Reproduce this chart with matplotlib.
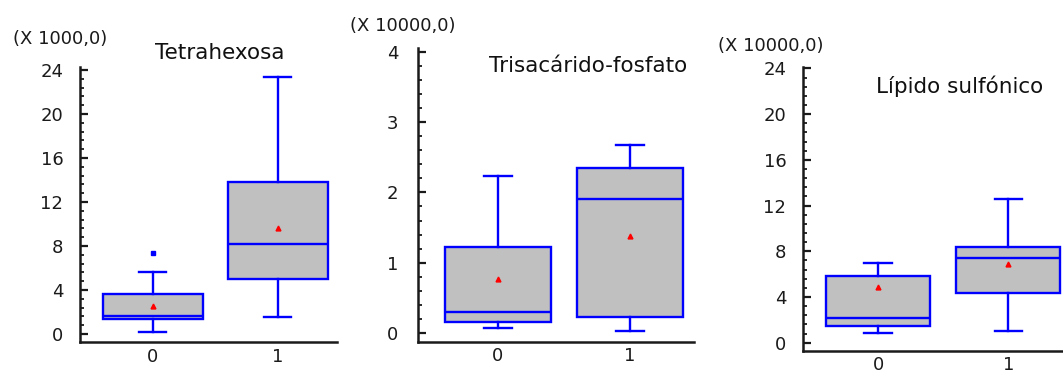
import matplotlib
matplotlib.use("Agg")
import matplotlib.pyplot as plt
from matplotlib.ticker import MultipleLocator, AutoMinorLocator

plt.rcParams['font.family'] = ['DejaVu Sans']

# group labels on the x axis
groups = ['0', '1']

# Tetrahexosa (X 1000,0): whisker low, Q1, median, Q3, whisker high, mean
tetra_lo = [0.15, 1.5]
tetra_q1 = [1.4, 5.0]
tetra_med = [1.65, 8.2]
tetra_q3 = [3.6, 13.8]
tetra_hi = [5.6, 23.4]
tetra_mean = [2.5, 9.6]
tetra_out = [[7.4], []]

# Trisacárido-fosfato (X 10000,0)
tris_lo = [0.07, 0.03]
tris_q1 = [0.16, 0.23]
tris_med = [0.30, 1.90]
tris_q3 = [1.22, 2.34]
tris_hi = [2.23, 2.67]
tris_mean = [0.77, 1.38]
tris_out = [[], []]

# Lípido sulfónico (X 10000,0)
lip_lo = [0.87, 1.05]
lip_q1 = [1.49, 4.32]
lip_med = [2.13, 7.38]
lip_q3 = [5.84, 8.40]
lip_hi = [6.95, 12.57]
lip_mean = [4.9, 6.86]
lip_out = [[], []]

W, H = 1063, 378
fig = plt.figure(figsize=(W / 100, H / 100), dpi=100)

BLUE = '#0000ff'


def px_box(left, right, top, bottom):
    """Axes rect from pixel coordinates (y measured from the top)."""
    return [left / W, 1 - bottom / H, (right - left) / W, (bottom - top) / H]


def draw_panel(rect, lo, q1, med, q3, hi, mean, out, ylim, xlim,
               major, title, title_xy, scale, scale_xy, ypad):
    ax = fig.add_axes(rect)
    stats = []
    for i in range(len(groups)):
        stats.append(dict(whislo=lo[i], q1=q1[i], med=med[i], q3=q3[i],
                          whishi=hi[i], mean=mean[i], fliers=out[i],
                          label=groups[i]))
    ax.bxp(stats, positions=range(len(groups)), widths=0.8, capwidths=0.21,
           patch_artist=True, showmeans=True,
           boxprops=dict(facecolor='#c0c0c0', edgecolor=BLUE, linewidth=1.7),
           medianprops=dict(color=BLUE, linewidth=1.7),
           whiskerprops=dict(color=BLUE, linewidth=1.7),
           capprops=dict(color=BLUE, linewidth=1.7),
           meanprops=dict(marker='^', markerfacecolor='red',
                          markeredgecolor='red', markersize=3.5),
           flierprops=dict(marker='s', markerfacecolor=BLUE,
                           markeredgecolor=BLUE, markersize=2.5))
    ax.set_xlim(*xlim)
    ax.set_ylim(*ylim)
    ax.yaxis.set_major_locator(MultipleLocator(major))
    ax.yaxis.set_minor_locator(AutoMinorLocator(5))
    for side in ('top', 'right'):
        ax.spines[side].set_visible(False)
    for side in ('left', 'bottom'):
        ax.spines[side].set_linewidth(1.8)
        ax.spines[side].set_color('#1a1a1a')
    ax.tick_params(axis='y', which='major', direction='in', length=6,
                   width=1.6, labelsize=13, pad=ypad, colors='#1a1a1a')
    ax.tick_params(axis='y', which='minor', direction='in', length=3,
                   width=1.3, colors='#1a1a1a')
    ax.tick_params(axis='x', length=0, labelsize=13, pad=4,
                   colors='#1a1a1a')
    ax.patch.set_alpha(0)
    fig.text(title_xy[0] / W, 1 - title_xy[1] / H, title, ha='center',
             va='baseline', fontsize=15.5, color='#111111')
    fig.text(scale_xy[0] / W, 1 - scale_xy[1] / H, scale, ha='left',
             va='baseline', fontsize=13, color='#1a1a1a')
    return ax


draw_panel(px_box(80, 337, 67, 342), tetra_lo, tetra_q1, tetra_med,
           tetra_q3, tetra_hi, tetra_mean, tetra_out,
           (-0.73, 24.27), (-0.58, 1.476), 4, 'Tetrahexosa', (220, 59),
           '(X 1000,0)', (13, 44), 12)

draw_panel(px_box(418, 694, 48, 341.7), tris_lo, tris_q1, tris_med,
           tris_q3, tris_hi, tris_mean, tris_out,
           (-0.12, 4.05), (-0.606, 1.485), 1, 'Trisacárido-fosfato',
           (588, 72), '(X 10000,0)', (350, 31), 14)

draw_panel(px_box(803, 1063, 66.7, 350.7), lip_lo, lip_q1, lip_med,
           lip_q3, lip_hi, lip_mean, lip_out,
           (-0.7, 24.15), (-0.577, 1.42), 4, 'Lípido sulfónico', (960, 93),
           '(X 10000,0)', (718, 51), 12)

fig.savefig('out.png', dpi=100, facecolor='white')
